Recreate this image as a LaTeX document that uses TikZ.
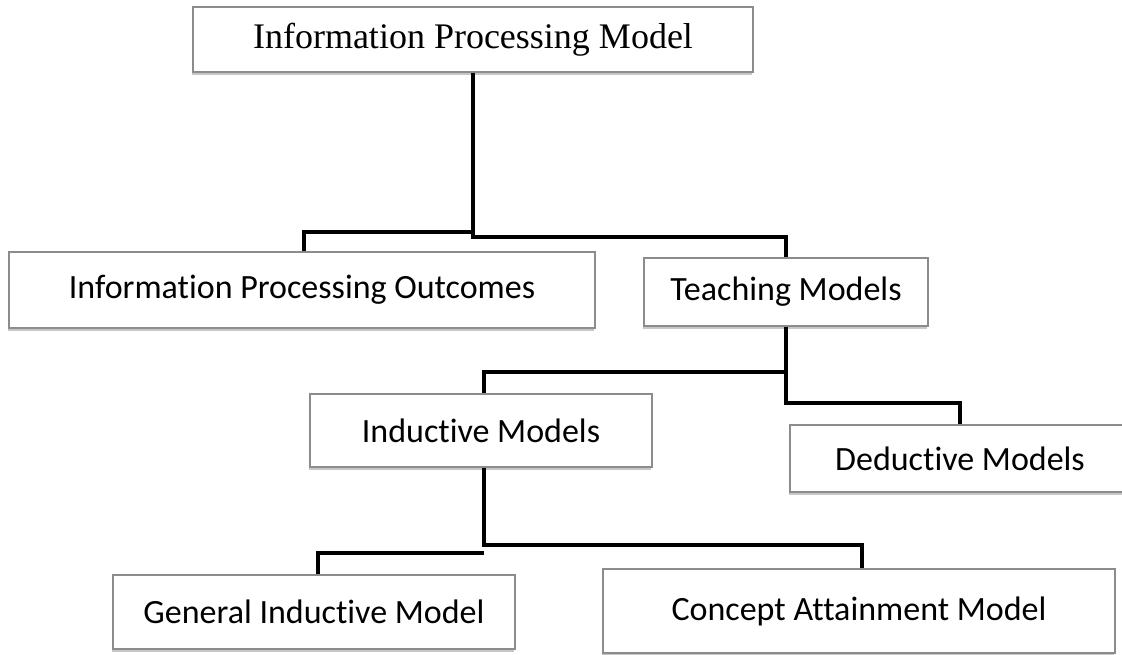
\documentclass[tikz,border=0pt]{standalone}
\usepackage{fontspec}
\setmainfont{Liberation Serif}
\newfontfamily\calib[Ligatures={NoCommon}]{Carlito}
\usetikzlibrary{shadows}
\tikzset{
  box/.style={draw=black!45, line width=1.2pt, fill=white, rectangle, inner sep=0pt,
    drop shadow={shadow xshift=-1pt, shadow yshift=-3pt, fill=black!22, opacity=1}},
  sansbox/.style={box, font=\calib\fontsize{34}{40}\selectfont},
  serifbox/.style={box, font=\fontsize{36}{42}\selectfont},
  conn/.style={draw=black, line width=4pt, line join=miter}
}
\begin{document}
\begin{tikzpicture}[x=1pt,y=-1pt]
\clip (0,0) rectangle (1122,655);
\fill[white] (0,0) rectangle (1122,655);
% boxes
\node[serifbox, minimum width=560pt, minimum height=65pt] (top) at (473,39.5) {Information Processing Model};
\node[sansbox, minimum width=586pt, minimum height=76pt] (out) at (302,290) {Information Processing Outcomes};
\node[sansbox, minimum width=284pt, minimum height=68pt] (teach) at (786,292) {Teaching Models};
\node[sansbox, minimum width=342pt, minimum height=73pt] (ind) at (481,430.5) {Inductive Models};
\node[sansbox, minimum width=340pt, minimum height=67pt] (ded) at (960,458.5) {Deductive Models};
\node[sansbox, minimum width=402pt, minimum height=74pt] (gen) at (314,612) {General Inductive Model};
\node[sansbox, minimum width=512pt, minimum height=84pt] (con) at (859,611) {Concept Attainment Model};
% joints
\coordinate (j1) at (473,237);
\coordinate (j1l) at (473,232);
\coordinate (j2) at (786,372);
\coordinate (j3) at (786,403);
\coordinate (j4) at (484,545);
\coordinate (j4l) at (484,553);
% connectors
\draw[conn] (top.south) -- (j1) -| (teach.north);
\draw[conn] (j1l) -| ([xshift=2pt]out.north);
\draw[conn] (teach.south) -- (j3) -| (ded.north);
\draw[conn] (j2) -| ([xshift=3pt]ind.north);
\draw[conn] ([xshift=3pt]ind.south) -- (j4) -| ([xshift=3pt]con.north);
\draw[conn] (j4l) -| ([xshift=4pt]gen.north);
\end{tikzpicture}
\end{document}
